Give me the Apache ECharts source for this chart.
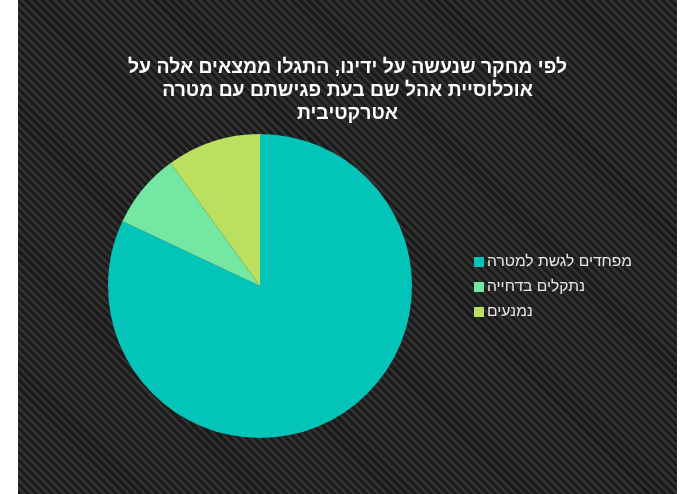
<!DOCTYPE html>
<html>
<head>
<meta charset="utf-8">
<script src="https://cdn.jsdelivr.net/npm/echarts@6/dist/echarts.min.js"></script>
<style>
html,body{margin:0;padding:0;background:#ffffff;}
#chart{position:absolute;left:18px;top:0;width:659px;height:494px;
background:repeating-linear-gradient(45deg,#1a1a1a 0px,#1a1a1a 3px,#313131 3px,#313131 5.7px);}
</style>
</head>
<body>
<div id="chart"></div>
<script>
const titleLines = ['לפי מחקר שנעשה על ידינו, התגלו ממצאים אלה על', 'אוכלוסיית אהל שם בעת פגישתם עם מטרה', 'אטרקטיבית'];
const categories = ['מפחדים לגשת למטרה', 'נתקלים בדחייה', 'נמנעים'];
const values = [82, 8, 10];
const colors = ['#03c4b8', '#74e8a2', '#bbe060'];

const chart = echarts.init(document.getElementById('chart'), null, {renderer: 'canvas'});
chart.setOption({
  backgroundColor: 'transparent',
  color: colors,
  title: {
    text: titleLines.join('\n'),
    left: 'center',
    top: 51,
    textStyle: {
      color: '#ffffff',
      fontFamily: 'Liberation Sans, Arial, sans-serif',
      fontWeight: 'bold',
      fontSize: 19.4,
      lineHeight: 23,
      align: 'center'
    }
  },
  legend: {
    orient: 'vertical',
    left: 451,
    top: 249,
    itemWidth: 10,
    itemHeight: 10,
    itemGap: 9,
    icon: 'rect',
    textStyle: {
      color: '#e8e8e8',
      fontFamily: 'Liberation Sans, Arial, sans-serif',
      fontSize: 15.6,
      padding: [0, 0, 0, -2]
    },
    data: categories
  },
  series: [{
    type: 'pie',
    center: [242, 286],
    radius: 152,
    startAngle: 90,
    clockwise: true,
    label: {show: false},
    labelLine: {show: false},
    emphasis: {disabled: true},
    animation: false,
    itemStyle: {borderWidth: 0},
    data: categories.map((c, i) => ({name: c, value: values[i]}))
  }]
});
</script>
</body>
</html>
